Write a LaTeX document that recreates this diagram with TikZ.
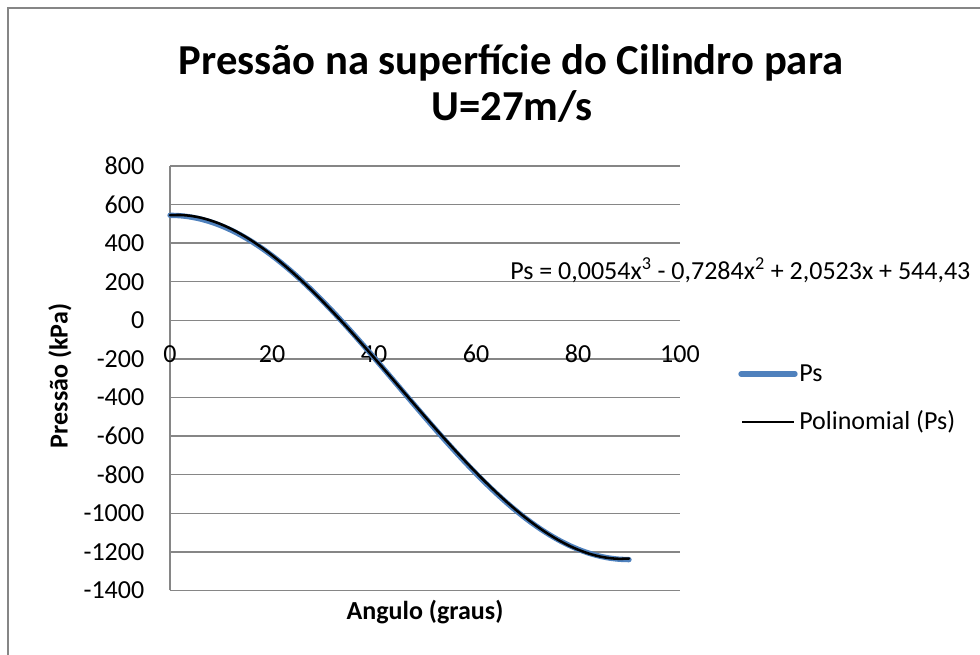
\documentclass[tikz,border=0pt]{standalone}
\usepackage{fontspec}
\setmainfont{Carlito}
\usetikzlibrary{calc}
\usetikzlibrary{positioning}

\definecolor{chartgray}{RGB}{134,134,134}
\definecolor{psblue}{RGB}{79,129,189}

\begin{document}
\begin{tikzpicture}[x=.75pt, y=-.75pt,
  gridline/.style={draw=chartgray, line width=1.1pt},
  ticklabel/.style={font=\fontsize{19.5}{23}\selectfont, inner sep=0pt},
  axistitle/.style={font=\fontsize{19.5}{23}\selectfont\bfseries, inner sep=0pt},
  titletext/.style={font=\fontsize{32}{36}\selectfont\bfseries, inner sep=0pt, anchor=base}]
\useasboundingbox (0,0) rectangle (980,655);
\draw[chartgray, line width=1pt] (8,655)--(8,8)--(980,8);

\node[titletext] (title1) at (511,75) {Pressão na superfície do Cilindro para};
\node[titletext] (title2) at (512,121) {U=27m/s};

\begin{scope}[shift={(170,320.3)}, x=3.825pt, y=.14475pt]
\foreach \p in {-1400,-1200,...,800} \draw[gridline] (0,\p)--(100,\p) node[pos=0, ticklabel, anchor=east, xshift=-18.75pt] {\p};
\draw[gridline] (0,-1400)--(0,800);
\foreach \t in {0,20,...,100} \node[ticklabel, anchor=base, yshift=-32pt] (xl\t) at (\t,0) {\t};

\draw[psblue, line width=4pt, line cap=round, domain=0:90, samples=46, smooth, variable=\x] plot ({\x},{-348+892*cos(2*\x)});
\draw[black, line width=1.9pt, line cap=round, domain=0:90, samples=46, smooth, variable=\x] plot ({\x},{5.4*(\x/10)^3-72.84*(\x/10)^2+20.523*(\x/10)+544.43});
\end{scope}

\node[ticklabel, anchor=base west] (eq) at (510,280) {Ps = 0,0054x\textsuperscript{3} - 0,7284x\textsuperscript{2} + 2,0523x + 544,43};

\node[axistitle, rotate=90] (ytitle) at (60,376) {Pressão (kPa)};
\node[axistitle] (xtitle) at (425,612) {Angulo (graus)};

% legend
\coordinate (ps a) at (741,374);
\coordinate (ps b) at (795,374);
\draw[psblue, line width=4pt, line cap=round] (ps a)--(ps b);
\node[ticklabel, anchor=base west] (ps) at (799,382) {Ps};
\coordinate (pol a) at (742,422);
\coordinate (pol b) at (794,422);
\draw[black, line width=1pt] (pol a)--(pol b);
\node[ticklabel, anchor=base west] (pol) at (799,429.5) {Polinomial (Ps)};
\end{tikzpicture}
\end{document}
